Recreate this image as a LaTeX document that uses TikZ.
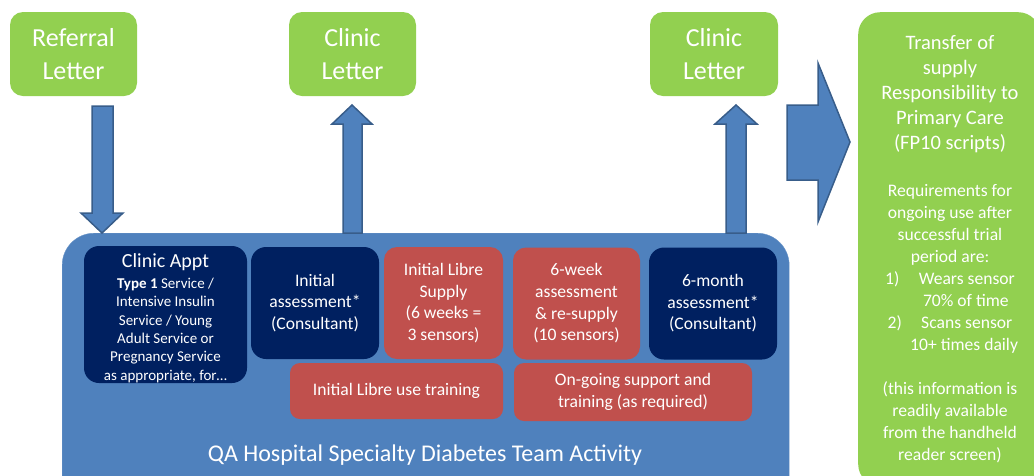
\documentclass[tikz,border=0pt]{standalone}
\usepackage{fontspec}
\setmainfont{Carlito}
\definecolor{lgreen}{HTML}{92D050}
\definecolor{mblue}{HTML}{4F81BD}
\definecolor{dblue}{HTML}{385D8A}
\definecolor{navy}{HTML}{002060}
\definecolor{lred}{HTML}{C0504D}
\newcommand\fsbig{\fontsize{20.5}{25}\selectfont}
\newcommand\fsmid{\fontsize{17.6}{22}\selectfont}
\newcommand\fsappt{\fontsize{15}{18.3}\selectfont}
\tikzset{
  greenbox/.style={fill=lgreen, rounded corners=13pt, text=white, align=center, inner sep=0pt},
  navybox/.style={fill=navy, rounded corners=15pt, text=white, align=center, inner sep=0pt,
    font=\fontsize{17.6}{21.6}\selectfont},
  redbox/.style={fill=lred, rounded corners=13pt, text=white, align=center, inner sep=0pt,
    font=\fontsize{17.6}{21.6}\selectfont},
  blockarrow/.style={fill=mblue, draw=dblue, line width=1.5pt, line join=miter},
}
\begin{document}
\begin{tikzpicture}[x=1pt,y=-1pt]
\useasboundingbox (0,0) rectangle (1034,475);
\clip (0,0) rectangle (1034,475);
% top letters
\node[greenbox, minimum width=127pt, minimum height=84pt, font=\fontsize{26}{33}\selectfont] (ref) at (73.5,54) {Referral\\Letter};
\node[greenbox, minimum width=127pt, minimum height=84pt, font=\fontsize{26}{33}\selectfont] (cl1) at (352.5,54) {Clinic\\Letter};
\node[greenbox, minimum width=128pt, minimum height=84pt, font=\fontsize{26}{33}\selectfont] (cl2) at (714,54) {Clinic\\Letter};
% right transfer box
\node[greenbox, rounded corners=22pt, minimum width=182pt, minimum height=474pt, anchor=north west] (tr) at (858,12) {};
\node[text=white, align=center, inner sep=0pt, anchor=north, font=\fsmid] (trtext) at (950,35) {\fsbig Transfer of\\[3pt] \fsbig supply\\[3pt] \fsbig Responsibility to\\[3pt] \fsbig Primary Care\\[3pt] \fsbig (FP10 scripts)\\[25pt]
Requirements for\\ ongoing use after\\ successful trial\\ period are:\\
1)\hspace{1.1em}Wears sensor\\ \hspace{1.8em}70\% of time\\ 2)\hspace{1.1em}Scans sensor\\ \hspace{1.6em}10+ times daily\\[22pt]
(this information is\\ readily available\\ from the handheld\\ reader screen)};
% big activity box
\node[fill=mblue, draw=mblue!85!white, rounded corners=32pt, minimum width=727pt, minimum height=290pt, anchor=north west, inner sep=0pt] (act) at (62,233) {};
\node[text=white, font=\fontsize{24}{28}\selectfont, inner sep=0pt] (acttitle) at (425,455) {QA Hospital Specialty Diabetes Team Activity};
% inner boxes
\node[navybox, minimum width=163pt, minimum height=137pt] (appt) at (165.5,314.5) {};
\node[text=white, align=center, inner sep=0pt, font=\fsappt] (appttext) at (165.5,318) {\fontsize{20}{24}\selectfont Clinic Appt\\[3pt]
\textbf{Type 1} Service /\\ Intensive Insulin\\ Service / Young\\ Adult Service or\\ Pregnancy Service\\ as appropriate, for\dots};
\node[navybox, minimum width=128pt, minimum height=112pt] (init) at (315,303) {Initial\\ assessment*\\ (Consultant)};
\node[redbox, minimum width=119pt, minimum height=112pt] (supply) at (443.5,303) {Initial Libre\\ Supply\\ (6 weeks =\\ 3 sensors)};
\node[redbox, minimum width=127pt, minimum height=112pt] (sixw) at (576.5,303.5) {6-week\\ assessment\\ \& re-supply\\ (10 sensors)};
\node[navybox, minimum width=128pt, minimum height=112pt] (sixm) at (713,303.5) {6-month\\ assessment*\\ (Consultant)};
\node[redbox, rounded corners=10pt, minimum width=213pt, minimum height=56pt] (train) at (396.5,391) {Initial Libre use training};
\node[redbox, rounded corners=10pt, minimum width=238pt, minimum height=58pt] (ongo) at (633,392) {On-going support and\\ training (as required)};
% block arrows
\draw[blockarrow] (92,106) -- (113,106) -- (113,213) -- (123,213) -- (102,233) -- (81,213) -- (92,213) -- cycle;
\draw[blockarrow] (343,233) -- (343,124) -- (332,124) -- (352,105) -- (372,124) -- (362,124) -- (362,233) -- cycle;
\draw[blockarrow] (726,233) -- (726,124) -- (715,124) -- (736,105) -- (757,124) -- (746,124) -- (746,233) -- cycle;
\draw[blockarrow] (787,105) -- (818,105) -- (818,63) -- (850,142) -- (818,222) -- (818,180) -- (787,180) -- cycle;
\end{tikzpicture}
\end{document}
